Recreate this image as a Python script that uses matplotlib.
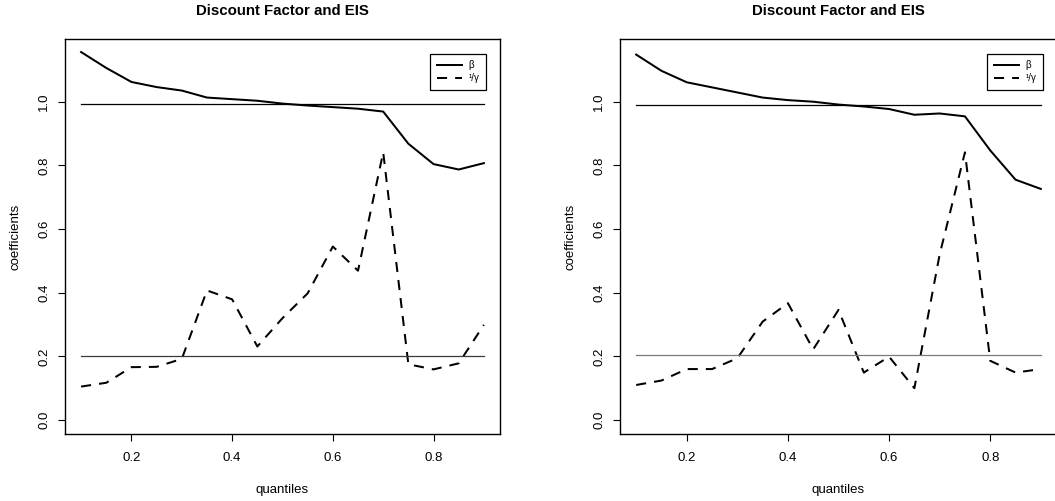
import numpy as np
import matplotlib.pyplot as plt

plt.rcParams['font.family'] = ['Liberation Sans', 'DejaVu Sans']

# quantili
q = np.arange(0.10, 0.901, 0.05)

# pannello sinistro
beta_L = [1.156, 1.106, 1.062, 1.046, 1.035, 1.013, 1.008, 1.003, 0.994,
          0.988, 0.983, 0.978, 0.969, 0.868, 0.804, 0.787, 0.807]
eis_L = [0.105, 0.117, 0.166, 0.167, 0.192, 0.407, 0.379, 0.231, 0.320,
         0.398, 0.545, 0.469, 0.841, 0.175, 0.159, 0.178, 0.299]
ref_beta_L = 0.992
ref_eis_L = 0.202

# pannello destro
beta_R = [1.148, 1.097, 1.061, 1.045, 1.029, 1.013, 1.005, 1.000, 0.991,
          0.985, 0.977, 0.959, 0.963, 0.954, 0.847, 0.755, 0.726]
eis_R = [0.110, 0.124, 0.160, 0.160, 0.194, 0.309, 0.367, 0.222, 0.346,
         0.149, 0.199, 0.100, 0.520, 0.841, 0.186, 0.149, 0.160]
ref_beta_R = 0.990
ref_eis_R = 0.203

W, H = 1055, 501
fig = plt.figure(figsize=(W / 100, H / 100), dpi=100)


def pannello(left, right, beta, eis, rb, re, grey):
    ax = fig.add_axes([left / W, 1 - 434 / H, (right - left) / W, (434 - 39) / H])
    ax.plot(q, beta, color='black', lw=1.45, label='β')
    ax.plot(q, eis, color='black', lw=1.45, dashes=(5, 4), label='¹/γ')
    ax.plot([q[0], q[-1]], [rb, rb], color='black', lw=0.9)
    ax.plot([q[0], q[-1]], [re, re], color=grey, lw=0.9)
    ax.set_xlim(0.068, 0.932)
    ax.set_ylim(-0.044, 1.197)
    ax.set_xticks([0.2, 0.4, 0.6, 0.8])
    ax.set_yticks([0.0, 0.2, 0.4, 0.6, 0.8, 1.0])
    ax.set_xticklabels(['0.2', '0.4', '0.6', '0.8'])
    ax.set_yticklabels(['0.0', '0.2', '0.4', '0.6', '0.8', '1.0'], rotation=90, va='center')
    ax.tick_params(direction='out', length=5, width=0.8, labelsize=9.5)
    ax.tick_params(axis='x', pad=8)
    ax.tick_params(axis='y', pad=5.5)
    for s in ax.spines.values():
        s.set_linewidth(1.0)
    ax.set_xlabel('quantiles', fontsize=9.5, labelpad=14)
    ax.set_ylabel('coefficients', fontsize=9.5, labelpad=12)
    ax.set_title('Discount Factor and EIS', fontsize=10.8, fontweight='bold', pad=17)
    leg = ax.legend(loc='upper right', bbox_to_anchor=(1 - 14 / (right - left), 1 - 15 / 395),
                    fontsize=7, fancybox=False, edgecolor='black', framealpha=1,
                    borderaxespad=0, handlelength=2.6, borderpad=0.65,
                    labelspacing=0.3, handletextpad=0.7)
    leg.get_frame().set_linewidth(0.9)
    return ax


pannello(65, 500, beta_L, eis_L, ref_beta_L, ref_eis_L, '#3a3a3a')
pannello(620, 1057, beta_R, eis_R, ref_beta_R, ref_eis_R, '#7a7a7a')

fig.savefig('out.png', dpi=100)
